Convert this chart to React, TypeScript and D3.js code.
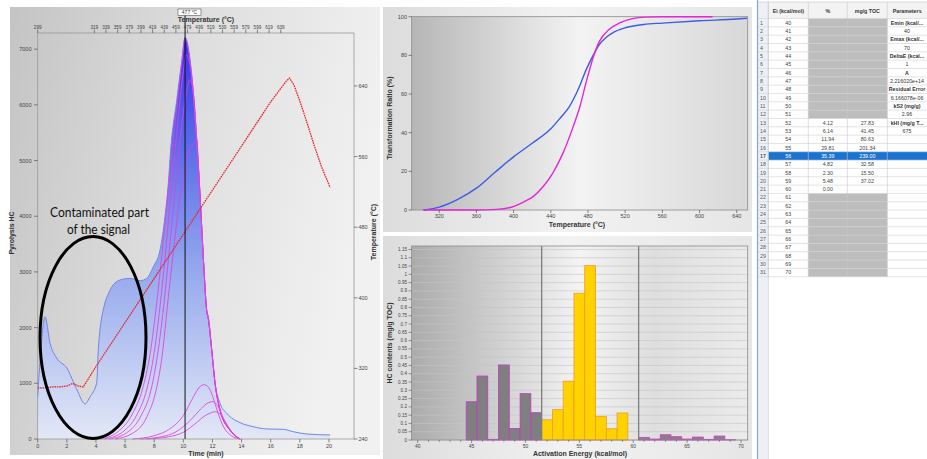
import React from 'react';
import * as d3 from 'd3';

// ---------- Left chart: pyrolysis signal ----------
const s2Time = [0, 0.2, 0.5, 0.85, 1.3, 2, 2.7, 3.25, 3.6, 4.05, 4.16, 4.3, 4.5, 4.97, 5.65, 6.33, 7.03, 7.49, 7.94, 8.4, 8.74, 8.97, 9.13, 9.55, 9.9, 10.12, 10.46, 10.69, 10.92, 11.1, 11.26, 11.42, 11.6, 11.72, 11.95, 12.18, 12.52, 12.98, 13.9, 14.8, 15.73, 16.87, 17.55, 18.47, 20.08];
const s2Value = [760, 1550, 2196, 1718, 1454, 1275, 880, 630, 760, 1005, 1598, 2016, 2316, 2675, 2855, 2885, 2842, 2885, 3093, 3393, 3991, 4590, 5188, 6086, 6804, 7212, 6804, 6206, 5368, 4590, 3811, 3034, 2316, 2196, 1598, 1000, 641, 461, 293, 221, 180, 174, 131, 90, 72];

const tempTime = [0, 0.5, 1, 1.5, 2, 2.4, 2.8, 3.13, 4, 5, 6, 7, 8, 9, 10, 11, 12, 13, 14, 15, 16, 17, 17.28, 17.6, 18, 18.5, 19, 19.5, 20.08];
const tempValue = [298, 298, 299, 299, 300, 303, 300, 299, 322, 347, 372, 397, 422, 447, 472, 497, 522, 547, 572, 597, 622, 644, 649, 641, 623, 598, 572, 548, 525];

const fitLeft1 = [[4.3, 0], [5.5, 130], [6.5, 450], [7.2, 900], [7.7, 1500], [8.2, 2500], [8.6, 3500], [8.95, 4450], [9.25, 5250], [9.6, 6050], [9.9, 6780], [10.12, 7200]];
const fitLeft2 = [[4.6, 0], [5.8, 120], [6.8, 430], [7.5, 900], [8.0, 1550], [8.45, 2500], [8.8, 3400], [9.1, 4300], [9.4, 5100], [9.7, 5900], [10.0, 6600], [10.2, 6900]];
const fitLeft3 = [[4.9, 0], [6.1, 110], [7.1, 420], [7.8, 900], [8.25, 1550], [8.7, 2500], [9.0, 3300], [9.3, 4100], [9.6, 4900], [9.9, 5650], [10.2, 6200], [10.45, 6450]];
const fitLeft4 = [[5.3, 0], [6.5, 100], [7.5, 400], [8.15, 900], [8.55, 1500], [8.95, 2500], [9.25, 3200], [9.55, 3900], [9.85, 4500], [10.15, 4950], [10.45, 5200], [10.7, 5300]];
const fitRight1 = [[10.46, 6800], [10.69, 6206], [10.92, 5368], [11.1, 4590], [11.26, 3811], [11.42, 3034], [11.6, 2316], [11.72, 2150], [11.95, 1598], [12.18, 1000], [12.52, 520], [13.2, 160], [13.9, 0]];
const bump57 = [[6.5, 0], [8, 60], [9, 170], [10, 420], [10.7, 760], [11.1, 930], [11.45, 975], [11.8, 900], [12.1, 700], [12.4, 450], [12.8, 200], [13.3, 60], [13.9, 0]];
const bump58 = [[7, 0], [8.5, 40], [9.5, 130], [10.5, 340], [11.2, 540], [11.7, 650], [12.05, 670], [12.35, 600], [12.7, 400], [13.1, 200], [13.5, 70], [13.9, 0]];
const bump59 = [[7.5, 0], [9, 40], [10, 120], [10.8, 270], [11.5, 420], [12.0, 480], [12.22, 490], [12.55, 440], [12.9, 300], [13.3, 140], [13.6, 50], [13.9, 0]];

const timeTicks = [0, 2, 4, 6, 8, 10, 12, 14, 16, 18, 20];
const hcTicks = [0, 1000, 2000, 3000, 4000, 5000, 6000, 7000];
const rightTempTicks = [240, 320, 400, 480, 560, 640];
const topTempTicks = [299, 319, 339, 359, 379, 399, 419, 439, 459, 479, 499, 519, 539, 559, 579, 599, 619, 639];
const tmaxTime = 10.12;
const tmaxLabel = '477 °C';

// ---------- Top-right: transformation ratio ----------
const trMeasT = [303, 320, 340, 360, 380, 400, 420, 440, 450, 460, 470, 478, 485, 492, 500, 507, 520, 540, 560, 600, 640, 651];
const trMeasV = [0, 1.5, 5.5, 11.3, 19.5, 27.5, 34.5, 42, 47.5, 53.5, 63, 72.5, 79.5, 85.5, 89.5, 91.8, 94.3, 96, 96.7, 97.9, 98.8, 99.2];
const trModelT = [303, 360, 381.5, 399, 410, 421, 431.6, 442, 453, 464, 471, 478, 485, 492, 503, 514, 528, 542, 560, 614];
const trModelV = [0, 0, 0.3, 1.7, 4, 6.9, 12, 19, 29.3, 43, 53, 66, 78, 87, 93.5, 96.8, 99, 99.8, 100, 100];
const trXTicks = [320, 360, 400, 440, 480, 520, 560, 600, 640];
const trYTicks = [0, 20, 40, 60, 80, 100];

// ---------- Bottom-right: activation energy distribution ----------
const eaValues = [40, 41, 42, 43, 44, 45, 46, 47, 48, 49, 50, 51, 52, 53, 54, 55, 56, 57, 58, 59, 60, 61, 62, 63, 64, 65, 66, 67, 68, 69, 70];
const eaHC = [0, 0, 0, 0, 0, 0.231, 0.386, 0.004, 0.453, 0.070, 0.280, 0.165, 0.122, 0.183, 0.355, 0.886, 1.052, 0.143, 0.068, 0.163, 0, 0.016, 0.006, 0.032, 0.02, 0.006, 0.018, 0.004, 0.024, 0.002, 0];
const eaXTicks = [40, 45, 50, 55, 60, 65, 70];
const hcYTicks = [0, 0.05, 0.1, 0.15, 0.2, 0.25, 0.3, 0.35, 0.4, 0.45, 0.5, 0.55, 0.6, 0.65, 0.7, 0.75, 0.8, 0.85, 0.9, 0.95, 1, 1.05, 1.1, 1.15];
const eaDividers = [51.5, 60.5];

// ---------- Table ----------
const tableEi = ['40', '41', '42', '43', '44', '45', '46', '47', '48', '49', '50', '51', '52', '53', '54', '55', '56', '57', '58', '59', '60', '61', '62', '63', '64', '65', '66', '67', '68', '69', '70'];
const tablePct = ['', '', '', '', '', '', '', '', '', '', '', '', '4.12', '6.14', '11.94', '29.81', '35.39', '4.82', '2.30', '5.48', '0.00', '', '', '', '', '', '', '', '', '', ''];
const tableMg = ['', '', '', '', '', '', '', '', '', '', '', '', '27.83', '41.45', '80.63', '201.34', '239.00', '32.58', '15.50', '37.02', '', '', '', '', '', '', '', '', '', '', ''];
const tableParams = ['Emin (kcal/...', '40', 'Emax (kcal/...', '70', 'DeltaE (kcal...', '1', 'A', '2.216020e+14', 'Residual Error', '6.166078e-06', 'kS2 (mg/g)', '2.96', 'kHI (mg/g T...', '675'];
const tableHeaders = ['Ei (kcal/mol)', '%', 'mg/g TOC', 'Parameters'];
const selectedRow = 16;

const FONT = 'Liberation Sans, Arial, sans-serif';

export default function App() {
  React.useEffect(() => {
    document.body.style.margin = '0';
  }, []);

  // Left chart scales
  const xL = d3.scaleLinear().domain([0, 21.72]).range([37.7, 354]);
  const yL = d3.scaleLinear().domain([0, 7290]).range([439, 33]);
  const yR = d3.scaleLinear().domain([240, 700]).range([439, 33]);
  const tempToTime = d3.scaleLinear().domain([299, 300, 650]).range([0, 3.13, 17.13]);

  const s2 = s2Time.map((t, i) => [t, s2Value[i]] as [number, number]);
  const temp = tempTime.map((t, i) => [t, tempValue[i]] as [number, number]);
  const area = d3.area<[number, number]>().x(d => xL(d[0])).y0(yL(0)).y1(d => yL(d[1])).curve(d3.curveMonotoneX);
  const lineS2 = d3.line<[number, number]>().x(d => xL(d[0])).y(d => yL(d[1])).curve(d3.curveMonotoneX);
  const lineT = d3.line<[number, number]>().x(d => xL(d[0])).y(d => yR(d[1]));
  const fitCurves = [
    fitLeft1.concat(fitRight1),
    fitLeft2.concat(fitRight1.slice(1)),
    fitLeft3.concat(fitRight1.slice(1)),
    fitLeft4.concat(fitRight1.slice(2)),
    bump57, bump58, bump59,
  ] as [number, number][][];

  // Top-right scales
  const x2 = d3.scaleLinear().domain([290.4, 651.8]).range([411.7, 747.7]);
  const y2 = d3.scaleLinear().domain([0, 100]).range([210, 16.7]);
  const line2 = d3.line<[number, number]>().x(d => x2(d[0])).y(d => y2(d[1])).curve(d3.curveMonotoneX);
  const meas = trMeasT.map((t, i) => [t, trMeasV[i]] as [number, number]);
  const model = trModelT.map((t, i) => [t, trModelV[i]] as [number, number]);

  // Bottom-right scales
  const x3 = d3.scaleLinear().domain([39.443, 70.62]).range([411.7, 747.7]);
  const y3 = d3.scaleLinear().domain([0, 1.171]).range([440, 246]);

  // Table layout
  const colX = [758, 768.3, 808.3, 847.3, 887.3, 940];
  const headTop = 2, rowTop = 18.5, rowH = 8.33;

  const barStyle = (e: number) => {
    if (e < 51.5) return { fill: '#7f7f7f', stroke: '#c838c8' };
    if (e < 60.5) return { fill: '#ffd200', stroke: '#f09a2a' };
    return { fill: '#8e7b8e', stroke: '#d040d0' };
  };

  return (
    <div style={{ position: 'absolute', left: 0, top: 0 }}>
      <svg width={927} height={459} style={{ display: 'block', background: '#fff' }} fontFamily={FONT}>
        <defs>
          <linearGradient id="bgL" x1="0" y1="0" x2="1" y2="0.25">
            <stop offset="0" stopColor="#c4c4c4" />
            <stop offset="0.5" stopColor="#dedede" />
            <stop offset="1" stopColor="#f1f1f1" />
          </linearGradient>
          <linearGradient id="blueFill" gradientUnits="userSpaceOnUse" x1="0" y1="33" x2="0" y2="439">
            <stop offset="0" stopColor="#3a2ff2" />
            <stop offset="0.25" stopColor="#5566ea" />
            <stop offset="0.6" stopColor="#98abee" />
            <stop offset="1" stopColor="#e3e8f6" />
          </linearGradient>
          <linearGradient id="bgTR" x1="0" y1="0" x2="1" y2="0">
            <stop offset="0" stopColor="#dcdcdc" />
            <stop offset="0.5" stopColor="#f2f2f2" />
            <stop offset="1" stopColor="#e6e6e6" />
          </linearGradient>
          <linearGradient id="plotTR" x1="0" y1="0" x2="1" y2="0">
            <stop offset="0" stopColor="#b6b6b6" />
            <stop offset="0.5" stopColor="#f3f3f3" />
            <stop offset="1" stopColor="#d8d8d8" />
          </linearGradient>
          <linearGradient id="plotBR" x1="0" y1="0" x2="1" y2="0">
            <stop offset="0" stopColor="#ababab" />
            <stop offset="0.3" stopColor="#d6d6d6" />
            <stop offset="0.5" stopColor="#f4f4f4" />
            <stop offset="0.72" stopColor="#dedede" />
            <stop offset="1" stopColor="#ebebeb" />
          </linearGradient>
        </defs>

        {/* ===== Left panel ===== */}
        <rect x={10} y={7} width={370} height={448} fill="url(#bgL)" />
        <path d={area(s2) || ''} fill="url(#blueFill)" />
        <path d={lineS2(s2) || ''} fill="none" stroke="#6f86e6" strokeWidth={1} />
        {fitCurves.map((c, i) => (
          <path key={i} d={lineS2(c) || ''} fill="none" stroke="#e03ee0" strokeWidth={0.9} opacity={0.95} />
        ))}
        <path d={lineT(temp) || ''} fill="none" stroke="#e8242c" strokeWidth={1.3} strokeDasharray="1.6 0.8" />
        {/* plot frame */}
        <rect x={37.7} y={33} width={354 - 37.7} height={439 - 33} fill="none" stroke="#9a9a9a" strokeWidth={0.8} />
        {/* Tmax line */}
        <line x1={xL(tmaxTime)} x2={xL(tmaxTime)} y1={15} y2={439} stroke="#111" strokeWidth={1} />
        <rect x={178} y={9} width={23} height={6.5} fill="#fff" stroke="#555" strokeWidth={0.6} />
        <text x={189.5} y={14} fontSize={5} textAnchor="middle" fill="#333">{tmaxLabel}</text>
        {/* left axis */}
        {hcTicks.map(v => (
          <g key={v}>
            <line x1={34} x2={37.7} y1={yL(v)} y2={yL(v)} stroke="#555" strokeWidth={0.7} />
            <text x={31.5} y={yL(v) + 2} fontSize={5.5} textAnchor="end" fill="#444">{v}</text>
          </g>
        ))}
        <text transform={`translate(14,233) rotate(-90)`} fontSize={7} fontWeight="bold" textAnchor="middle" fill="#333">Pyrolysis HC</text>
        {/* bottom axis */}
        {timeTicks.map(v => (
          <g key={v}>
            <line x1={xL(v)} x2={xL(v)} y1={439} y2={442.5} stroke="#555" strokeWidth={0.7} />
            <text x={xL(v)} y={448} fontSize={5.5} textAnchor="middle" fill="#444">{v}</text>
          </g>
        ))}
        <text x={206} y={456} fontSize={7} fontWeight="bold" textAnchor="middle" fill="#333">Time (min)</text>
        {/* right axis */}
        {rightTempTicks.map(v => (
          <g key={v}>
            <line x1={354} x2={357.5} y1={yR(v)} y2={yR(v)} stroke="#555" strokeWidth={0.7} />
            <text x={358.5} y={yR(v) + 2} fontSize={5.5} fill="#444">{v}</text>
          </g>
        ))}
        <text transform={`translate(376,232) rotate(-90)`} fontSize={7} fontWeight="bold" textAnchor="middle" fill="#333">Temperature (°C)</text>
        {/* top axis */}
        {topTempTicks.map(v => (
          <g key={v}>
            <line x1={xL(tempToTime(v))} x2={xL(tempToTime(v))} y1={29.5} y2={33} stroke="#555" strokeWidth={0.7} />
            <text x={xL(tempToTime(v))} y={29} fontSize={4.6} textAnchor="middle" fill="#444">{v}</text>
          </g>
        ))}
        <text x={206} y={21.5} fontSize={7} fontWeight="bold" textAnchor="middle" fill="#333">Temperature (°C)</text>
        {/* annotation */}
        <ellipse cx={93} cy={337.5} rx={53} ry={101} fill="none" stroke="#000" strokeWidth={3} />
        <text x={99.5} y={216.5} fontSize={14} fontFamily="Lato, Open Sans, sans-serif" textAnchor="middle" fill="#111" textLength={99} lengthAdjust="spacingAndGlyphs">Contaminated part</text>
        <text x={98.5} y={233.5} fontSize={14} fontFamily="Lato, Open Sans, sans-serif" textAnchor="middle" fill="#111" textLength={63} lengthAdjust="spacingAndGlyphs">of the signal</text>

        {/* ===== Top-right panel ===== */}
        <rect x={383} y={7} width={369} height={225} fill="url(#bgTR)" />
        <rect x={411.7} y={16.7} width={336} height={193.3} fill="url(#plotTR)" stroke="#8a8a8a" strokeWidth={0.8} />
        <path d={line2(meas) || ''} fill="none" stroke="#3d5ce6" strokeWidth={1.4} />
        <path d={line2(model) || ''} fill="none" stroke="#e626d6" strokeWidth={1.4} />
        {trYTicks.map(v => (
          <g key={v}>
            <line x1={408.5} x2={411.7} y1={y2(v)} y2={y2(v)} stroke="#555" strokeWidth={0.7} />
            <text x={407} y={y2(v) + 2} fontSize={5.5} textAnchor="end" fill="#444">{v}</text>
          </g>
        ))}
        {trXTicks.map(v => (
          <g key={v}>
            <line x1={x2(v)} x2={x2(v)} y1={210} y2={213} stroke="#555" strokeWidth={0.7} />
            <text x={x2(v)} y={218} fontSize={5.5} textAnchor="middle" fill="#444">{v}</text>
          </g>
        ))}
        <text x={577} y={226.5} fontSize={7} fontWeight="bold" textAnchor="middle" fill="#333">Temperature (°C)</text>
        <text transform={`translate(392,118) rotate(-90)`} fontSize={7} fontWeight="bold" textAnchor="middle" fill="#333">Transformation Ratio (%)</text>

        {/* ===== Bottom-right panel ===== */}
        <rect x={383} y={236} width={369} height={223} fill="url(#bgTR)" />
        <rect x={411.7} y={246} width={336} height={194} fill="url(#plotBR)" />
        {hcYTicks.map(v => (
          <line key={v} x1={411.7} x2={747.7} y1={y3(v)} y2={y3(v)} stroke="#c4c4c4" strokeWidth={0.6} />
        ))}
        {eaValues.map((e, i) => {
          const v = eaHC[i];
          if (v <= 0) return null;
          const st = barStyle(e);
          return (
            <rect key={e} x={x3(e - 0.5)} y={y3(v)} width={x3(e + 0.5) - x3(e - 0.5)} height={y3(0) - y3(v)}
              fill={st.fill} stroke={st.stroke} strokeWidth={0.8} />
          );
        })}
        {eaDividers.map(d => (
          <line key={d} x1={x3(d)} x2={x3(d)} y1={246} y2={440} stroke="#7e7e7e" strokeWidth={1.3} />
        ))}
        <rect x={411.7} y={246} width={336} height={194} fill="none" stroke="#8a8a8a" strokeWidth={0.8} />
        {hcYTicks.map(v => (
          <g key={v}>
            <line x1={408.5} x2={411.7} y1={y3(v)} y2={y3(v)} stroke="#555" strokeWidth={0.6} />
            <text x={407} y={y3(v) + 1.6} fontSize={4.6} textAnchor="end" fill="#444">{String(v)}</text>
          </g>
        ))}
        {eaValues.map(e => (
          <line key={e} x1={x3(e)} x2={x3(e)} y1={440} y2={eaXTicks.includes(e) ? 443 : 441.8} stroke="#555" strokeWidth={0.6} />
        ))}
        {eaXTicks.map(v => (
          <text key={v} x={x3(v)} y={447.5} fontSize={5} textAnchor="middle" fill="#444">{v}</text>
        ))}
        <text x={580} y={456} fontSize={7} fontWeight="bold" textAnchor="middle" fill="#333">Activation Energy (kcal/mol)</text>
        <text transform={`translate(392,343) rotate(-90)`} fontSize={7} fontWeight="bold" textAnchor="middle" fill="#333">HC contents (mg/g TOC)</text>

        {/* ===== Table ===== */}
        <rect x={756} y={0} width={171} height={459} fill="#fff" />
        <rect x={758} y={headTop} width={colX[1] - 758} height={459 - headTop} fill="#edf0f5" />
        <line x1={757.5} x2={757.5} y1={0} y2={459} stroke="#8aa6cf" strokeWidth={1.2} />
        <rect x={colX[1]} y={headTop} width={927 - colX[1]} height={rowTop - headTop} fill="#f3f3f3" />
        {tableHeaders.map((h, i) => (
          <text key={h} x={(colX[i + 1] + Math.min(colX[i + 2], 927)) / 2} y={12.5} fontSize={5.3} fontWeight="bold" textAnchor="middle" fill="#333">{h}</text>
        ))}
        {tableEi.map((ei, r) => {
          const top = rowTop + r * rowH;
          const cy = top + rowH / 2 + 1.9;
          const sel = r === selectedRow;
          const grayRow = tablePct[r] === '';
          return (
            <g key={ei}>
              {sel && <rect x={colX[1]} y={top} width={927 - colX[1]} height={rowH} fill="#1a73d0" />}
              {!sel && grayRow && <rect x={colX[2]} y={top} width={colX[4] - colX[2]} height={rowH} fill="#bdbdbd" />}
              <text x={760} y={cy} fontSize={5.3} fill="#4a5a70" fontWeight={sel ? 'bold' : 'normal'}>{r + 1}</text>
              <text x={(colX[1] + colX[2]) / 2} y={cy} fontSize={5.3} textAnchor="middle" fill={sel ? '#fff' : '#444'}>{ei}</text>
              <text x={(colX[2] + colX[3]) / 2} y={cy} fontSize={5.3} textAnchor="middle" fill={sel ? '#fff' : '#444'}>{tablePct[r]}</text>
              <text x={(colX[3] + colX[4]) / 2} y={cy} fontSize={5.3} textAnchor="middle" fill={sel ? '#fff' : '#444'}>{tableMg[r]}</text>
              {r < tableParams.length && (
                <text x={907} y={cy} fontSize={5.3} textAnchor="middle" fill="#333" fontWeight={r % 2 === 0 ? 'bold' : 'normal'}>{tableParams[r]}</text>
              )}
            </g>
          );
        })}
        {d3.range(0, tableEi.length + 1).map(r => (
          <line key={r} x1={758} x2={927} y1={rowTop + r * rowH} y2={rowTop + r * rowH} stroke="#d2d2d2" strokeWidth={0.6} />
        ))}
        <line x1={758} x2={927} y1={headTop} y2={headTop} stroke="#c8c8c8" strokeWidth={0.6} />
        {colX.slice(1, 5).map(cx => (
          <line key={cx} x1={cx} x2={cx} y1={headTop} y2={rowTop + tableEi.length * rowH} stroke="#c8c8c8" strokeWidth={0.6} />
        ))}
        <line x1={colX[1]} x2={colX[1]} y1={headTop} y2={459} stroke="#c8c8c8" strokeWidth={0.6} />
      </svg>
    </div>
  );
}
